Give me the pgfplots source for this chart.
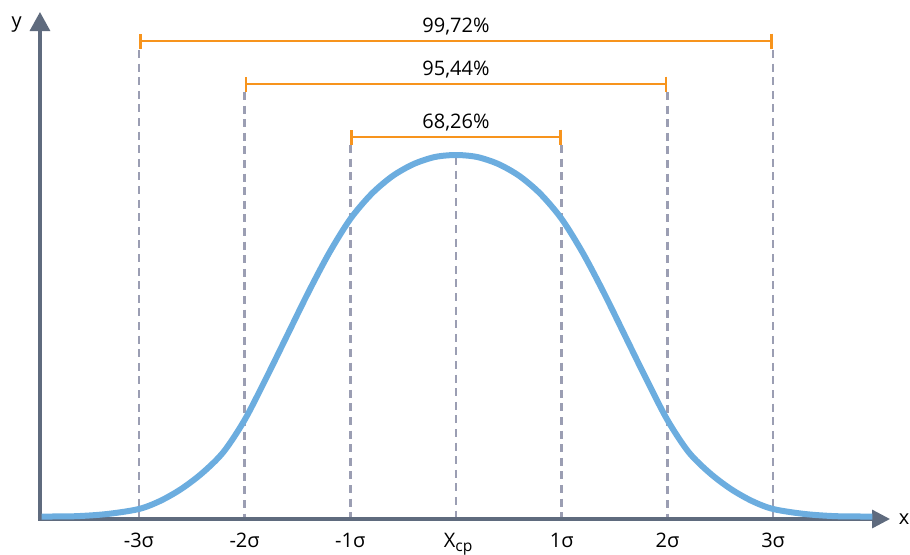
\documentclass[border=0pt]{standalone}
\usepackage{fontspec}
\setmainfont{Open Sans}
\usepackage{pgfplots}
\pgfplotsset{compat=1.18}
\usetikzlibrary{arrows.meta}
\definecolor{curvec}{HTML}{6CADDF}
\definecolor{axisc}{HTML}{5F6B7E}
\definecolor{dashc}{HTML}{9B9EB3}
\definecolor{orng}{HTML}{F7941D}
\definecolor{txt}{HTML}{4D4D4D}
\begin{document}
\begin{tikzpicture}
\begin{axis}[
  width=455pt, height=277pt, scale only axis, hide axis, clip=false,
  xmin=-4.314, xmax=4.295, ymin=-35, ymax=519,
  every node/.append style={font=\fontsize{9.5}{11}\selectfont, text=txt},
  dashline/.style={dashc, line width=1.35pt, dash pattern=on 4pt off 2.8pt},
]
\coordinate (bl) at (rel axis cs:0,0);
\coordinate (tr) at (rel axis cs:1,1);
% dashed verticals
\addplot[dashline] coordinates {(-3,469) (-3,0)};
\addplot[dashline] coordinates {(3,469) (3,0)};
\addplot[dashline] coordinates {(-2,427) (-2,0)};
\addplot[dashline] coordinates {(2,427) (2,0)};
\addplot[dashline] coordinates {(-1,374) (-1,0)};
\addplot[dashline] coordinates {(1,374) (1,0)};
\addplot[dashline] coordinates {(0,362) (0,0)};
% axes
\draw[axisc, line width=1.6pt, -{Triangle[length=9pt,width=9pt]}] (axis cs:-3.955,0) -- (axis cs:4.106,0);
\draw[axisc, line width=1.6pt, -{Triangle[length=9.5pt,width=10pt]}] (axis cs:-3.936,0) -- (axis cs:-3.936,507);
% curve
\addplot[curvec, line width=3pt, smooth] coordinates {
(-3.92,2.5) (-3.6,2.8) (-3.3,5) (-3.0,10) (-2.8,18) (-2.6,30) (-2.4,46) (-2.2,67) (-2.0,99)
(-1.8,140) (-1.6,183) (-1.4,226) (-1.2,266) (-1.0,300) (-0.8,325) (-0.6,343) (-0.4,355)
(-0.2,362) (0,364)
(0.2,362) (0.4,355) (0.6,343) (0.8,325) (1.0,300) (1.2,266) (1.4,226) (1.6,183) (1.8,140)
(2.0,99) (2.2,67) (2.4,46) (2.6,30) (2.8,18) (3.0,10) (3.3,5) (3.6,2.8) (3.94,2.5)
};
% brackets
\addplot[orng, line width=1.35pt, arrows={Bar[width=7.5pt]-Bar[width=7.5pt]}] coordinates {(-3,478) (3,478)};
\addplot[orng, line width=1.35pt, arrows={Bar[width=7.5pt]-Bar[width=7.5pt]}] coordinates {(-2,435) (2,435)};
\addplot[orng, line width=1.35pt, arrows={Bar[width=7.5pt]-Bar[width=7.5pt]}] coordinates {(-1,382) (1,382)};
\node at (axis cs:0,492.5) {99,72\%};
\node at (axis cs:0,449.5) {95,44\%};
\node at (axis cs:0,396) {68,26\%};
% tick labels
\node[anchor=base] at (axis cs:-3,-28) {-3σ};
\node[anchor=base] at (axis cs:-2,-28) {-2σ};
\node[anchor=base] at (axis cs:-1,-28) {-1σ};
\node[anchor=base] at (axis cs:0.02,-28) {X\raisebox{-0.45ex}{\fontsize{7.8}{9}\selectfont ср}};
\node[anchor=base] at (axis cs:1,-28) {1σ};
\node[anchor=base] at (axis cs:2,-28) {2σ};
\node[anchor=base] at (axis cs:3,-28) {3σ};
% axis names
\node[anchor=base, inner sep=0pt] at (axis cs:4.24,-5) {x};
\node[anchor=base] at (axis cs:-4.156,492) {y};
\end{axis}
\pgfresetboundingbox
\path[use as bounding box] (bl) rectangle (tr);
\end{tikzpicture}
\end{document}
